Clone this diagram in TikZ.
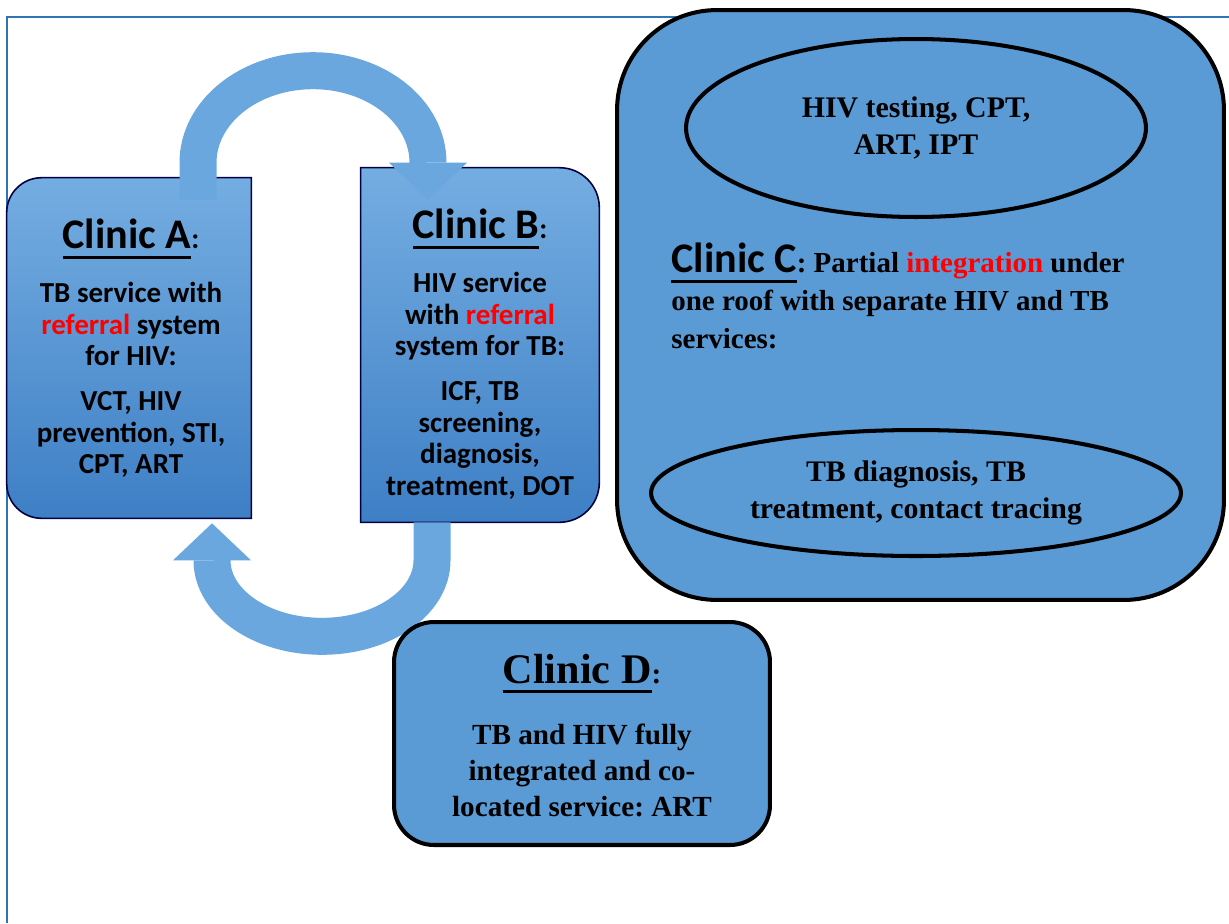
\documentclass[tikz,border=0pt]{standalone}
\usepackage{fontspec}
\usepackage{tikz}
\usetikzlibrary{shapes.geometric,arrows.meta}
\setmainfont{Liberation Serif}
\newfontfamily\calfont{Carlito}
\frenchspacing
\definecolor{panelblue}{HTML}{5B9BD5}
\definecolor{boxtop}{HTML}{74ADE1}
\definecolor{boxbot}{HTML}{3E7FC5}
\definecolor{arrowblue}{HTML}{6AA7DF}
\definecolor{frameblue}{HTML}{2F75B5}
\newcommand{\clinul}[1]{\setbox0=\hbox{#1}\rlap{\rule[-5.5pt]{\wd0}{1.7pt}}\box0}
\tikzset{
    frameline/.style={draw=frameblue, line width=0.85pt},
    anchorbox/.style={rectangle, inner sep=0pt},
    glossy/.style={top color=boxtop, bottom color=boxbot, draw=black!75!blue, line width=0.9pt},
    clinbox/.style={draw=black, fill=panelblue, line width=2.3pt, inner sep=0pt},
    oval/.style={ellipse, draw=black, fill=panelblue, line width=2.3pt, inner sep=0pt,
        align=center, font=\bfseries\fontsize{17}{21.5}\selectfont},
    calibtext/.style={align=center, inner sep=0pt, font=\calfont\bfseries\fontsize{16.5}{18}\selectfont},
    serifhead/.style={inner sep=0pt, font=\bfseries\fontsize{16.5}{21.5}\selectfont},
    looparrow/.style={draw=arrowblue, line width=0.74cm,
        -{Triangle[width=1.56cm,length=0.74cm,line width=0pt]}}
}
\begin{document}
\begin{tikzpicture}[x=0.02cm,y=-0.02cm]
\useasboundingbox (0,0) rectangle (1229,923);
\draw[frameline] (7,923) -- (7,17) -- (1229,17);

\node[anchorbox, minimum width=4.88cm, minimum height=6.8cm] (clinA) at (129,348) {};
\node[anchorbox, minimum width=4.76cm, minimum height=7.08cm] (clinB) at (480,345) {};
\path[glossy] (clinA.north east) -- ([shift={(35,0)}]clinA.north west)
    arc[start angle=270, end angle=180, radius=35] -- ([shift={(0,-35)}]clinA.south west)
    arc[start angle=180, end angle=90, radius=35] -- (clinA.south east) -- cycle;
\path[glossy] (clinB.north west) -- ([shift={(-40,0)}]clinB.north east)
    arc[start angle=270, end angle=360, radius=40] -- ([shift={(0,-40)}]clinB.south east)
    arc[start angle=0, end angle=90, radius=40] -- (clinB.south west) -- cycle;

\node[calibtext, anchor=north] (txtA) at (131,219) {{\fontsize{24}{24}\selectfont\clinul{Clinic A}}:\\[12.5pt]
    TB service with\\ \textcolor{red}{referral} system\\ for HIV:\\[7.5pt]
    VCT, HIV\\ prevention, STI,\\ CPT, ART};
\node[calibtext, anchor=north] (txtB) at (480,209) {{\fontsize{24}{24}\selectfont\clinul{Clinic B}}:\\[12.5pt]
    HIV service\\ with \textcolor{red}{referral}\\ system for TB:\\[7.5pt]
    ICF, TB\\ screening,\\ diagnosis,\\ treatment, DOT};

\draw[looparrow] ([shift={(69,22)}]clinA.north) -- ++(0,-37)
    arc[start angle=180, end angle=360, x radius=115, y radius=92] -- ([shift={(-52,32)}]clinB.north);
\draw[looparrow] ([shift={(-48,0)}]clinB.south) -- ++(0,38)
    arc[start angle=0, end angle=180, x radius=110, y radius=76] -- ([shift={(83,5)}]clinA.south);

\node[clinbox, minimum width=12.14cm, minimum height=11.8cm, rounded corners=2cm] (clinC) at (920.5,305) {};
\node[oval, minimum width=9.2cm, minimum height=3.56cm] (hivC) at (916,128) {HIV testing, CPT,\\ ART, IPT};
\node[oval, minimum width=10.6cm, minimum height=2.52cm] (tbC) at (916,493) {TB diagnosis, TB\\ treatment, contact tracing};
\node[serifhead, anchor=north west, align=left] (txtC) at (671,243) {{\calfont\fontsize{24}{24}\selectfont\clinul{Clinic C}}: Partial
    \textcolor{red}{integration} under\\ one roof with separate HIV and TB\\ services:};

\node[clinbox, minimum width=7.52cm, minimum height=4.46cm, rounded corners=0.8cm] (clinD) at (582,733.5) {};
\node[anchor=north, align=center, inner sep=0pt, font=\bfseries\fontsize{16.6}{20.4}\selectfont] (txtD) at (582,654)
    {{\fontsize{24}{24}\selectfont\clinul{Clinic D}}:\\[14.5pt] TB and HIV fully\\ integrated and co-\\ located service: ART};
\end{tikzpicture}
\end{document}
